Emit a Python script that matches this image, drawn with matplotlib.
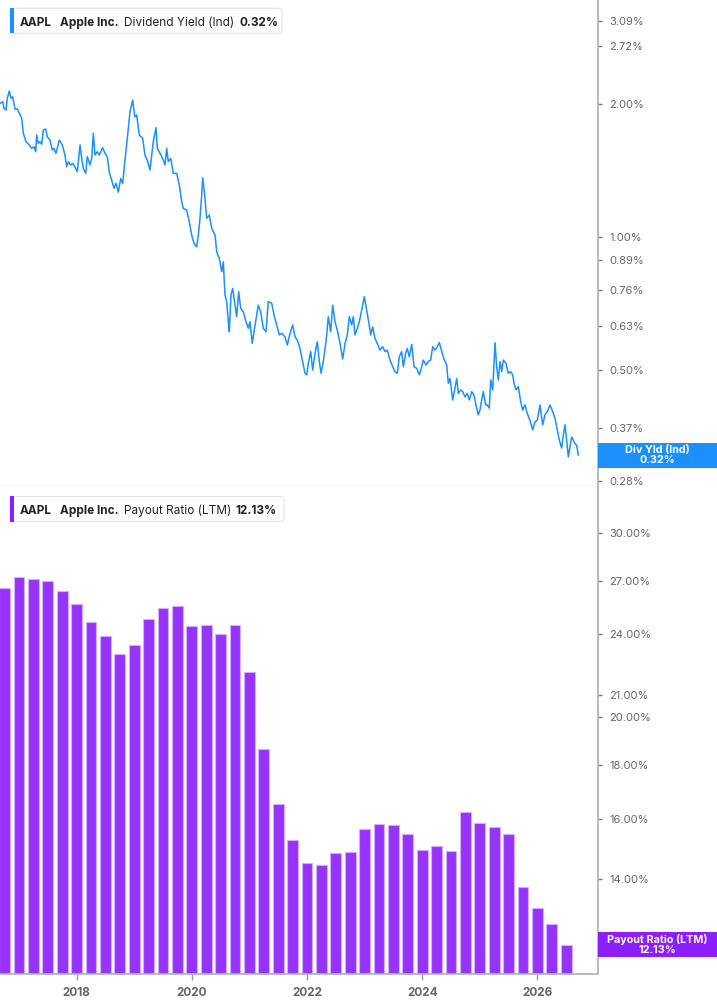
import numpy as np
import matplotlib
matplotlib.use("Agg")
import matplotlib.pyplot as plt
from matplotlib.patches import Rectangle, FancyBboxPatch
from matplotlib.ticker import FixedLocator, NullLocator, NullFormatter, FuncFormatter

plt.rcParams['font.family'] = ['Inter', 'DejaVu Sans']

# AAPL dividend yield (%) (decimal years)
yield_dates = [
    2016.670, 2016.717, 2016.739, 2016.774, 2016.797, 2016.831, 2016.861, 2016.890, 2016.930, 2016.970,
    2017.017, 2017.047, 2017.075, 2017.121, 2017.179, 2017.220, 2017.260, 2017.290, 2017.307, 2017.335,
    2017.364, 2017.394, 2017.422, 2017.463, 2017.491, 2017.538, 2017.578, 2017.608, 2017.642, 2017.700,
    2017.752, 2017.798, 2017.828, 2017.856, 2017.897, 2017.932, 2017.972, 2018.012, 2018.059, 2018.088,
    2018.116, 2018.158, 2018.186, 2018.232, 2018.262, 2018.290, 2018.319, 2018.359, 2018.394, 2018.453,
    2018.493, 2018.533, 2018.568, 2018.609, 2018.649, 2018.684, 2018.724, 2018.766, 2018.800, 2018.840,
    2018.880, 2018.927, 2018.974, 2019.009, 2019.043, 2019.088, 2019.147, 2019.187, 2019.227, 2019.274,
    2019.304, 2019.331, 2019.378, 2019.401, 2019.448, 2019.505, 2019.535, 2019.564, 2019.592, 2019.634,
    2019.679, 2019.738, 2019.783, 2019.825, 2019.852, 2019.911, 2019.956, 2019.998, 2020.038, 2020.085,
    2020.113, 2020.142, 2020.172, 2020.189, 2020.217, 2020.259, 2020.304, 2020.345, 2020.403, 2020.432,
    2020.477, 2020.519, 2020.547, 2020.576, 2020.606, 2020.634, 2020.651, 2020.680, 2020.710, 2020.750,
    2020.779, 2020.814, 2020.849, 2020.894, 2020.941, 2020.981, 2021.010, 2021.050, 2021.080, 2021.127,
    2021.154, 2021.196, 2021.241, 2021.288, 2021.328, 2021.387, 2021.427, 2021.474, 2021.519, 2021.561,
    2021.618, 2021.658, 2021.705, 2021.752, 2021.792, 2021.832, 2021.878, 2021.908, 2021.936, 2021.965,
    2021.995, 2022.023, 2022.064, 2022.099, 2022.139, 2022.179, 2022.214, 2022.243, 2022.283, 2022.330,
    2022.370, 2022.411, 2022.446, 2022.486, 2022.526, 2022.573, 2022.620, 2022.660, 2022.700, 2022.734,
    2022.776, 2022.804, 2022.833, 2022.873, 2022.908, 2022.950, 2022.995, 2023.036, 2023.071, 2023.106,
    2023.140, 2023.180, 2023.220, 2023.267, 2023.314, 2023.354, 2023.394, 2023.441, 2023.488, 2023.528,
    2023.568, 2023.602, 2023.644, 2023.672, 2023.713, 2023.741, 2023.776, 2023.818, 2023.858, 2023.904,
    2023.950, 2023.991, 2024.019, 2024.066, 2024.106, 2024.147, 2024.182, 2024.222, 2024.262, 2024.297,
    2024.309, 2024.356, 2024.396, 2024.425, 2024.453, 2024.483, 2024.529, 2024.569, 2024.599, 2024.627,
    2024.668, 2024.703, 2024.743, 2024.783, 2024.818, 2024.859, 2024.899, 2024.934, 2024.974, 2025.003,
    2025.033, 2025.061, 2025.102, 2025.130, 2025.165, 2025.189, 2025.224, 2025.264, 2025.293, 2025.321,
    2025.351, 2025.380, 2025.408, 2025.455, 2025.495, 2025.537, 2025.571, 2025.594, 2025.628, 2025.668,
    2025.710, 2025.745, 2025.785, 2025.824, 2025.871, 2025.918, 2025.958, 2025.998, 2026.045, 2026.092,
    2026.132, 2026.172, 2026.219, 2026.265, 2026.305, 2026.345, 2026.380, 2026.422, 2026.449, 2026.479,
    2026.508, 2026.537, 2026.566, 2026.595, 2026.623, 2026.652, 2026.682, 2026.710,
]
yield_values = [
    2.012, 2.029, 1.960, 1.943, 2.065, 2.146, 2.065, 2.082, 1.953, 1.953,
    1.900, 1.861, 1.721, 1.647, 1.619, 1.591, 1.604, 1.563, 1.706, 1.633,
    1.647, 1.625, 1.750, 1.760, 1.690, 1.661, 1.577, 1.591, 1.550, 1.661,
    1.619, 1.536, 1.445, 1.484, 1.458, 1.471, 1.445, 1.408, 1.619, 1.510,
    1.433, 1.396, 1.523, 1.458, 1.510, 1.721, 1.536, 1.563, 1.536, 1.596,
    1.550, 1.523, 1.404, 1.348, 1.291, 1.325, 1.265, 1.360, 1.325, 1.497,
    1.676, 1.926, 2.047, 1.876, 1.893, 1.706, 1.676, 1.536, 1.497, 1.421,
    1.536, 1.647, 1.772, 1.591, 1.550, 1.497, 1.458, 1.591, 1.484, 1.510,
    1.396, 1.396, 1.314, 1.204, 1.163, 1.153, 1.085, 1.012, 0.969, 0.952,
    1.012, 1.104, 1.247, 1.365, 1.269, 1.104, 1.123, 1.048, 1.012, 0.928,
    0.896, 0.836, 0.880, 0.740, 0.715, 0.644, 0.611, 0.740, 0.766, 0.702,
    0.661, 0.753, 0.690, 0.678, 0.644, 0.622, 0.644, 0.575, 0.611, 0.667,
    0.702, 0.678, 0.622, 0.611, 0.715, 0.709, 0.667, 0.633, 0.601, 0.606,
    0.595, 0.570, 0.606, 0.633, 0.595, 0.585, 0.560, 0.536, 0.514, 0.492,
    0.488, 0.518, 0.551, 0.500, 0.546, 0.580, 0.523, 0.492, 0.523, 0.580,
    0.661, 0.611, 0.702, 0.644, 0.616, 0.575, 0.530, 0.575, 0.601, 0.661,
    0.633, 0.661, 0.601, 0.622, 0.644, 0.684, 0.734, 0.684, 0.644, 0.601,
    0.627, 0.590, 0.575, 0.555, 0.565, 0.551, 0.555, 0.527, 0.509, 0.496,
    0.492, 0.536, 0.551, 0.509, 0.546, 0.560, 0.536, 0.572, 0.509, 0.505,
    0.488, 0.509, 0.527, 0.514, 0.523, 0.527, 0.565, 0.555, 0.565, 0.578,
    0.570, 0.541, 0.523, 0.514, 0.467, 0.479, 0.428, 0.455, 0.479, 0.443,
    0.451, 0.447, 0.435, 0.443, 0.428, 0.447, 0.439, 0.417, 0.396, 0.406,
    0.428, 0.447, 0.417, 0.417, 0.410, 0.475, 0.451, 0.577, 0.509, 0.475,
    0.523, 0.496, 0.527, 0.518, 0.492, 0.496, 0.488, 0.467, 0.451, 0.459,
    0.424, 0.406, 0.417, 0.399, 0.385, 0.366, 0.382, 0.385, 0.417, 0.376,
    0.396, 0.403, 0.417, 0.403, 0.389, 0.366, 0.347, 0.333, 0.356, 0.376,
    0.347, 0.318, 0.335, 0.353, 0.347, 0.341, 0.338, 0.321,
]

# payout ratio (LTM, %), one bar per quarter
payout_quarters = np.arange(2016.75, 2026.51, 0.25)
payout_values = [
    26.58, 27.24, 27.12, 26.99, 26.38, 25.68, 24.68, 23.94, 23.01, 23.44,
    24.83, 25.44, 25.53, 24.46, 24.50, 24.03, 24.50, 22.12, 18.65, 16.52,
    15.27, 14.50, 14.45, 14.83, 14.87, 15.63, 15.83, 15.79, 15.48, 14.94,
    15.07, 14.89, 16.24, 15.86, 15.72, 15.47, 13.76, 13.14, 12.68, 12.13,
]

yield_ticks = [0.28, 0.32, 0.37, 0.50, 0.63, 0.76, 0.89, 1.00, 2.00, 2.72, 3.09]
payout_ticks = [12, 14, 16, 18, 20, 21, 24, 27, 30]
year_ticks = [2018, 2020, 2022, 2024, 2026]

BLUE = '#1e8fff'
PURPLE = '#8d1fff'
BAR = '#9633ff'

W, H = 717, 1005
def fx(px):
    return px / W
def fy(py):
    return 1 - py / H

fig = plt.figure(figsize=(W / 100, H / 100), dpi=100)
ax1 = fig.add_axes([0, fy(487), fx(598), fy(0) - fy(487)])
ax2 = fig.add_axes([0, fy(974.3), fx(598), fy(487) - fy(974.3)])

ax1.plot(yield_dates, yield_values, color=BLUE, lw=1.1)

# bars start below the visible range of the log axis
bar_base = 1.0
ax2.bar(payout_quarters, np.array(payout_values) - bar_base, width=0.185, bottom=bar_base,
        color=BAR, edgecolor='#d2b0ff', linewidth=0.8)

ax1.set_ylim(0.2718, 3.45)
ax2.set_ylim(11.36, 33.2)

for ax, ticks in [(ax1, yield_ticks), (ax2, payout_ticks)]:
    ax.set_xlim(2016.670, 2027.052)
    ax.set_yscale('log')
    ax.yaxis.set_major_locator(FixedLocator(ticks))
    ax.yaxis.set_minor_locator(NullLocator())
    ax.yaxis.set_minor_formatter(NullFormatter())
    ax.yaxis.set_major_formatter(FuncFormatter(lambda v, p: "%.2f%%" % v))
    ax.yaxis.tick_right()
    ax.tick_params(axis='y', which='major', length=3, width=1, color='#777777',
                   labelsize=8, labelcolor='#666666', pad=5)
    ax.spines['left'].set_visible(False)
    ax.spines['top'].set_visible(False)
    ax.spines['right'].set_color('#b5b5b5')
    ax.spines['right'].set_linewidth(1.3)

ax1.spines['bottom'].set_color('#dddddd')
ax1.spines['bottom'].set_linewidth(1.0)
ax1.set_xticks([])

ax2.spines['bottom'].set_color('#b5b5b5')
ax2.spines['bottom'].set_linewidth(1.3)
ax2.set_xticks(year_ticks)
ax2.set_xticklabels([str(y) for y in year_ticks])
ax2.tick_params(axis='x', length=4, width=1, color='#999999', labelsize=8.5,
                labelcolor='#666666', pad=5)
for lab in ax2.get_xticklabels():
    lab.set_fontweight('bold')


def value_tag(ax, value, label, color):
    # coloured box on the right axis at the last value
    yd = ax.transData.transform((2020, value))[1]
    yc = H - yd
    x0, y0 = fig.transFigure.inverted().transform((598, H - (yc + 12.5)))
    x1, y1 = fig.transFigure.inverted().transform((W, H - (yc - 12.5)))
    fig.add_artist(Rectangle((x0, y0), x1 - x0, y1 - y0, transform=fig.transFigure,
                             facecolor=color, edgecolor='none', zorder=5))
    fig.text(fx(657.5), (y0 + y1) / 2, label, ha='center', va='center',
             color='white', fontsize=7.8, fontweight='bold', linespacing=1.05,
             multialignment='center', zorder=6)

value_tag(ax1, yield_values[-1], "Div Yld (Ind)\n0.32%", BLUE)
value_tag(ax2, payout_values[-1], "Payout Ratio (LTM)\n12.13%", PURPLE)


def legend_box(top, right, base, pieces, color):
    fig.add_artist(FancyBboxPatch((fx(10), fy(top + 25)), fx(right) - fx(10), fy(top) - fy(top + 25),
                                  boxstyle='round,pad=0,rounding_size=0.004',
                                  transform=fig.transFigure, facecolor='white',
                                  edgecolor='#e3e3e3', linewidth=0.8, zorder=5))
    fig.add_artist(Rectangle((fx(10), fy(top + 25)), fx(3.5), fy(top) - fy(top + 25),
                             transform=fig.transFigure, facecolor=color,
                             edgecolor='none', zorder=6))
    for xpos, txt, weight in pieces:
        fig.text(fx(xpos), fy(base), txt, ha='left', va='baseline', fontsize=8.5,
                 fontweight=weight, color='#222222', zorder=7)

legend_box(8.3, 282, 26, [(20, "AAPL", 'bold'), (60, "Apple Inc.", 'bold'),
                          (124, "Dividend Yield (Ind)", 'normal'), (239, "0.32%", 'bold')], BLUE)
legend_box(496.5, 284, 514, [(20, "AAPL", 'bold'), (60, "Apple Inc.", 'bold'),
                             (124, "Payout Ratio (LTM)", 'normal'), (235.5, "12.13%", 'bold')], PURPLE)

fig.savefig("out.png", dpi=100)
